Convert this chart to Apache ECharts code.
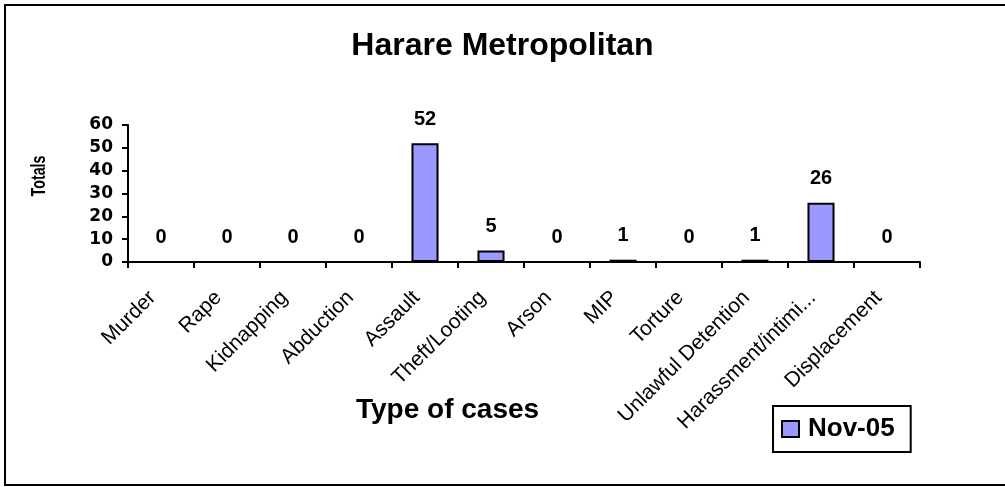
<!DOCTYPE html>
<html>
<head>
<meta charset="utf-8">
<script src="https://cdn.jsdelivr.net/npm/echarts@6/dist/echarts.min.js"></script>
<style>
html,body{margin:0;padding:0;background:#fff;}
#c{width:1005px;height:487px;}
</style>
</head>
<body>
<div id="c"></div>
<script>
const categories = ['Murder','Rape','Kidnapping','Abduction','Assault','Theft/Looting','Arson','MIP','Torture','Unlawful Detention','Harassment/intimi...','Displacement'];
const values = [0,0,0,0,52,5,0,1,0,1,26,0];
const seriesName = 'Nov-05';
const titleText = 'Harare Metropolitan';
const xTitle = 'Type of cases';
const yTitle = 'Totals';

const FONT = '"Liberation Sans", Arial, sans-serif';
const WIDE = '"DejaVu Sans", sans-serif';
const chart = echarts.init(document.getElementById('c'), null, {renderer:'canvas'});
chart.setOption({
  animation:false,
  backgroundColor:'#fff',
  textStyle:{fontFamily:FONT},
  title:[
    {text:titleText,left:'center',top:25,textStyle:{fontFamily:FONT,fontSize:32,fontWeight:'bold',color:'#000'}},
    {text:xTitle,left:351,top:391,textStyle:{fontFamily:FONT,fontSize:28,fontWeight:'bold',color:'#000'}}
  ],
  graphic:[
    {type:'rect',shape:{x:5,y:5,width:1010,height:480},style:{fill:'none',stroke:'#000',lineWidth:2},silent:true},
    {type:'text',x:39,y:176,rotation:Math.PI/2,scaleX:0.68,style:{text:yTitle,fontFamily:FONT,fontSize:21,fontWeight:'bold',fill:'#000',align:'center',verticalAlign:'middle'}}
  ],
  legend:{
    data:[seriesName],left:773,top:406,
    borderColor:'#000',borderWidth:2,padding:[10,16,10,8],
    itemWidth:17,itemHeight:16,itemGap:6,
    icon:'rect',
    textStyle:{fontFamily:FONT,fontSize:26,fontWeight:'bold',color:'#000',padding:[0,0,0,4]}
  },
  grid:{left:128,right:85,top:125,bottom:225,containLabel:false},
  xAxis:{
    type:'category',data:categories,
    axisLine:{lineStyle:{color:'#000',width:2}},
    axisTick:{show:true,length:6,lineStyle:{color:'#000',width:2}},
    axisLabel:{rotate:45,margin:24,padding:[0,12,0,0],fontFamily:FONT,fontSize:21,color:'#000',interval:0}
  },
  yAxis:{
    type:'value',min:0,max:60,interval:10,
    splitLine:{show:false},
    axisLine:{show:true,lineStyle:{color:'#000',width:2}},
    axisTick:{show:true,length:6,lineStyle:{color:'#000',width:2}},
    axisLabel:{margin:15,fontFamily:WIDE,fontSize:17,fontWeight:'bold',color:'#000'}
  },
  series:[{
    name:seriesName,type:'bar',data:values,barWidth:'41%',
    itemStyle:{color:'#9999FF',borderColor:'#000',borderWidth:2},
    label:{show:true,position:'top',distance:14,fontFamily:FONT,fontSize:20,fontWeight:'bold',color:'#000'}
  }]
});
</script>
</body>
</html>
